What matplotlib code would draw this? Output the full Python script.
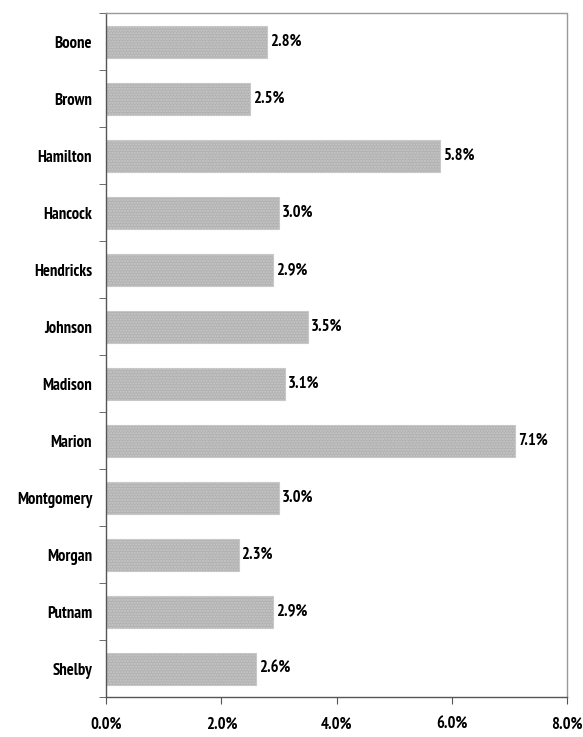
import matplotlib.pyplot as plt
import numpy as np

# Data
counties = ["Boone", "Brown", "Hamilton", "Hancock", "Hendricks", "Johnson",
            "Madison", "Marion", "Montgomery", "Morgan", "Putnam", "Shelby"]
values = [2.8, 2.5, 5.8, 3.0, 2.9, 3.5, 3.1, 7.1, 3.0, 2.3, 2.9, 2.6]
x_ticks = [0, 2, 4, 6, 8]

font = {"family": "PT Sans Narrow", "weight": "bold", "size": 12}

fig = plt.figure(figsize=(5.83, 7.37), dpi=100)
ax = fig.add_axes([0.182, 0.054, 0.7905, 0.928])

y = np.arange(len(counties))
ax.barh(y, values, height=0.56, color="#b2b2b2", edgecolor="#c8c8c8",
        linewidth=0.8, hatch="......")
plt.rcParams["hatch.color"] = "#a4a4a4"

for yi, v in zip(y, values):
    ax.text(v + 0.05, yi, f"{v:.1f}%", va="center", ha="left", **font)

ax.set_xlim(0, 8)
ax.set_ylim(len(counties) - 0.5, -0.5)

ax.set_xticks(x_ticks)
ax.set_xticklabels([f"{t:.1f}%" for t in x_ticks], **font)
ax.set_yticks(y)
ax.set_yticklabels(counties, **font)
ax.tick_params(axis="y", length=0, pad=10)
ax.set_yticks(np.arange(-0.5, len(counties), 1), minor=True)
ax.tick_params(axis="y", which="minor", length=5, direction="out", color="#555555")
ax.tick_params(axis="x", length=5, direction="out", pad=9, color="#555555")

for side in ["left", "bottom"]:
    ax.spines[side].set_color("#555555")
    ax.spines[side].set_linewidth(1.0)
for side in ["top", "right"]:
    ax.spines[side].set_color("#999999")
    ax.spines[side].set_linestyle((0, (1, 1)))
    ax.spines[side].set_linewidth(1.0)

fig.savefig("out.png", dpi=100)
